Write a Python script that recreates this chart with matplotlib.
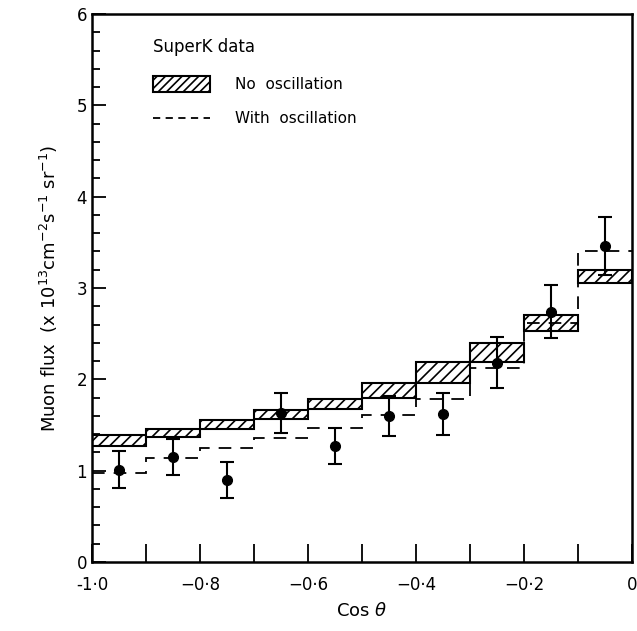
import numpy as np
import matplotlib.pyplot as plt

plt.rcParams['hatch.linewidth'] = 1.2

# bin edges in cos(theta)
edges = [-1.0, -0.9, -0.8, -0.7, -0.6, -0.5, -0.4, -0.3, -0.2, -0.1, 0.0]

# no-oscillation expectation band (lower, upper)
no_osc_low = [1.27, 1.37, 1.46, 1.57, 1.68, 1.80, 1.96, 2.19, 2.53, 3.05]
no_osc_high = [1.39, 1.46, 1.56, 1.66, 1.79, 1.96, 2.19, 2.40, 2.70, 3.20]

# with-oscillation expectation
with_osc = [0.97, 1.14, 1.25, 1.36, 1.47, 1.61, 1.79, 2.12, 2.62, 3.41]

# SuperK data points
data_x = [-0.95, -0.85, -0.75, -0.65, -0.55, -0.45, -0.35, -0.25, -0.15, -0.05]
data_y = [1.01, 1.15, 0.90, 1.63, 1.27, 1.60, 1.62, 2.18, 2.74, 3.46]
data_err = [0.20, 0.20, 0.20, 0.22, 0.20, 0.22, 0.23, 0.28, 0.29, 0.32]

xtick_vals = [-1.0, -0.8, -0.6, -0.4, -0.2, 0.0]
xtick_labels = ["-1·0", "−0·8", "−0·6", "−0·4", "−0·2", "0"]

fig = plt.figure(figsize=(6.37, 6.31), dpi=100)
ax = fig.add_axes([92 / 637, 69 / 631, 540 / 637, 548 / 631])

left = np.array(edges[:-1])
low = np.array(no_osc_low)
high = np.array(no_osc_high)
ax.bar(left, high - low, width=0.1, bottom=low, align='edge',
       facecolor='white', edgecolor='black', hatch='///', linewidth=1.5)

ax.stairs(with_osc, edges, baseline=None, color='black',
          linestyle=(0, (7, 5)), linewidth=1.3)

ax.errorbar(data_x, data_y, yerr=data_err, fmt='o', color='black',
            markersize=7, capsize=5, elinewidth=1.5, capthick=1.5)

ax.set_xlim(-1.0, 0.0)
ax.set_ylim(0, 6)
ax.set_xticks(xtick_vals)
ax.set_xticklabels(xtick_labels, fontsize=12)
ax.set_xticks(np.arange(-1.0, 0.01, 0.1), minor=True)
ax.set_yticks(range(7))
ax.set_yticks(np.arange(0, 6.01, 0.2), minor=True)
ax.tick_params(axis='y', which='major', direction='in', length=10, width=1.3, labelsize=12)
ax.tick_params(axis='y', which='minor', direction='in', length=6, width=1.3)
ax.tick_params(axis='x', which='both', direction='in', length=13, width=1.3, labelsize=12, pad=10)
for s in ax.spines.values():
    s.set_linewidth(1.8)

ax.set_xlabel(r"Cos $\theta$", fontsize=13, labelpad=6)
ax.set_ylabel(r"Muon flux  (x 10$^{13}$cm$^{-2}$s$^{-1}$ sr$^{-1}$)", fontsize=13, labelpad=12)

# legend drawn by hand
ax.text(0.113, 0.94, "SuperK data", transform=ax.transAxes, fontsize=12, va='center')
ax.add_patch(plt.Rectangle((0.113, 0.858), 0.106, 0.028, transform=ax.transAxes,
                           facecolor='white', edgecolor='black', hatch='////', linewidth=1.5))
ax.text(0.265, 0.872, "No  oscillation", transform=ax.transAxes, fontsize=11, va='center')
ax.plot([0.113, 0.219], [0.81, 0.81], transform=ax.transAxes, color='black',
        linestyle=(0, (4, 3)), linewidth=1.3)
ax.text(0.265, 0.81, "With  oscillation", transform=ax.transAxes, fontsize=11, va='center')

fig.savefig("out.png", dpi=100)
